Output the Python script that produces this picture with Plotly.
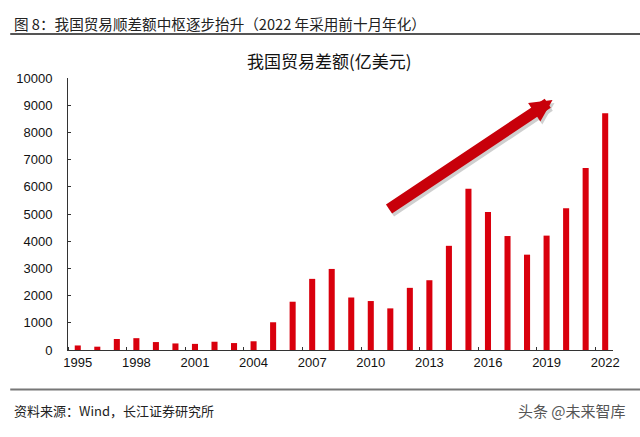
import plotly.graph_objects as go

years = list(range(1995, 2023))
surplus = [167, 122, 404, 435, 292, 241, 225, 304, 255, 321,
           1020, 1775, 2615, 2980, 1930, 1800, 1530, 2285, 2565, 3830,
           5925, 5070, 4190, 3505, 4205, 5215, 6690, 8700]
tick_years = list(range(1995, 2023, 3))

FONT = "Liberation Sans, Arial, Noto Sans CJK SC, sans-serif"
CJK = "Noto Sans CJK SC, Liberation Sans, sans-serif"

fig = go.Figure()
fig.add_trace(go.Bar(x=years, y=surplus, marker_color="#d9000d",
                     marker_line_width=0, width=0.31))

fig.update_layout(
    width=640, height=437,
    margin=dict(l=68, r=27, t=78, b=87),
    paper_bgcolor="white", plot_bgcolor="white",
    showlegend=False,
    font=dict(family=FONT, size=13, color="#111"),
    xaxis=dict(range=[1994.5, 2022.4], tickvals=tick_years,
               showgrid=False, zeroline=False,
               showline=True, linecolor="#333", linewidth=1,
               ticks="", tickfont=dict(size=13),
               minor=dict(tick0=1994.5, dtick=3, ticks="inside", ticklen=3,
                          tickcolor="#333", showgrid=False)),
    yaxis=dict(range=[0, 10000], dtick=1000, tickformat="d",
               showgrid=False, zeroline=False,
               showline=True, linecolor="#333", linewidth=1,
               ticks="inside", ticklen=3, tickcolor="#333",
               ticklabelstandoff=12, tickfont=dict(size=13)),
)

# header
fig.add_annotation(xref="paper", yref="paper", x=-0.102, y=1.202, xanchor="left",
                   yanchor="middle", showarrow=False,
                   text="图 8：我国贸易顺差额中枢逐步抬升（2022 年采用前十月年化）",
                   font=dict(family=CJK, size=14.6, color="#222"))
fig.add_shape(type="line", xref="paper", yref="paper", x0=-0.106, x1=1.06,
              y0=1.162, y1=1.162, line=dict(color="#555", width=2))
# chart title
fig.add_annotation(xref="paper", yref="paper", x=0.48, y=1.066, xanchor="center",
                   yanchor="middle", showarrow=False,
                   text="我国贸易差额(亿美元)",
                   font=dict(family=CJK, size=17, color="#111"))
# footer line and text
fig.add_shape(type="line", xref="paper", yref="paper", x0=-0.106, x1=1.06,
              y0=-0.145, y1=-0.145, line=dict(color="#777", width=2))
fig.add_annotation(xref="paper", yref="paper", x=-0.102, y=-0.221, xanchor="left",
                   yanchor="middle", showarrow=False,
                   text="资料来源：Wind，长江证券研究所",
                   font=dict(family=CJK, size=13, color="#222"))
fig.add_annotation(xref="paper", yref="paper", x=1.027, y=-0.224, xanchor="right",
                   yanchor="middle", showarrow=False,
                   text="头条 @未来智库",
                   font=dict(family=CJK, size=15, color="#555"))

# trend arrow (shadow + arrow)
for dx, dy, col in [(2, 3, "rgba(120,120,120,0.35)"), (0, 0, "#c8000a")]:
    fig.add_annotation(xref="paper", yref="paper",
                       x=0.889 + dx / 545, y=0.919 - dy / 272,
                       ax=-165, ay=110, axref="pixel", ayref="pixel",
                       showarrow=True, arrowhead=2, arrowsize=0.4,
                       arrowwidth=11, arrowcolor=col, text="")

fig.write_html("out.html")
